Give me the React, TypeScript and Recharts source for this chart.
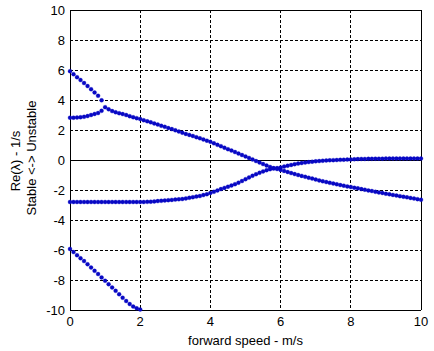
import React from "react";
import {
  LineChart,
  Line,
  XAxis,
  YAxis,
  CartesianGrid,
  ReferenceLine,
} from "recharts";

// forward speed, m/s
const speeds = [
  0, 0.1, 0.2, 0.3, 0.4, 0.5, 0.6, 0.7, 0.8, 0.9,
  1, 1.1, 1.2, 1.3, 1.4, 1.5, 1.6, 1.7, 1.8, 1.9,
  2, 2.1, 2.2, 2.3, 2.4, 2.5, 2.6, 2.7, 2.8, 2.9,
  3, 3.1, 3.2, 3.3, 3.4, 3.5, 3.6, 3.7, 3.8, 3.9,
  4, 4.1, 4.2, 4.3, 4.4, 4.5, 4.6, 4.7, 4.8, 4.9,
  5, 5.1, 5.2, 5.3, 5.4, 5.5, 5.6, 5.7, 5.8, 5.9,
  6, 6.1, 6.2, 6.3, 6.4, 6.5, 6.6, 6.7, 6.8, 6.9,
  7, 7.1, 7.2, 7.3, 7.4, 7.5, 7.6, 7.7, 7.8, 7.9,
  8, 8.1, 8.2, 8.3, 8.4, 8.5, 8.6, 8.7, 8.8, 8.9,
  9, 9.1, 9.2, 9.3, 9.4, 9.5, 9.6, 9.7, 9.8, 9.9,
  10,
];

// weave: upper real root, then the real part of the complex pair
const weave = [
  5.92, 5.72, 5.52, 5.33, 5.13, 4.93, 4.72, 4.5, 4.28, 3.98,
  3.52, 3.38, 3.26, 3.18, 3.12, 3.06, 3.0, 2.92, 2.85, 2.79,
  2.73, 2.65, 2.58, 2.51, 2.44, 2.36, 2.28, 2.21, 2.13, 2.06,
  1.98, 1.9, 1.82, 1.74, 1.67, 1.6, 1.52, 1.45, 1.37, 1.29,
  1.21, 1.11, 1.01, 0.92, 0.82, 0.72, 0.63, 0.53, 0.43, 0.33,
  0.24, 0.14, 0.04, -0.07, -0.17, -0.27, -0.37, -0.46, -0.54, -0.6,
  -0.66, -0.73, -0.8, -0.87, -0.94, -1.0, -1.06, -1.12, -1.18, -1.24,
  -1.3, -1.36, -1.42, -1.47, -1.52, -1.57, -1.62, -1.67, -1.71, -1.76,
  -1.8, -1.85, -1.89, -1.94, -1.98, -2.03, -2.07, -2.12, -2.16, -2.2,
  -2.25, -2.29, -2.33, -2.37, -2.41, -2.45, -2.49, -2.53, -2.57, -2.61,
  -2.65,
];

// weave: lower real root before the two merge
const weaveLow = [2.82, 2.82, 2.83, 2.85, 2.88, 2.93, 3.0, 3.07, 3.13, 3.28];

const capsize = [
  -2.8, -2.8, -2.8, -2.8, -2.8, -2.8, -2.8, -2.8, -2.8, -2.8,
  -2.8, -2.8, -2.8, -2.8, -2.8, -2.8, -2.8, -2.8, -2.8, -2.8,
  -2.8, -2.8, -2.79, -2.78, -2.76, -2.74, -2.72, -2.7, -2.68, -2.66,
  -2.64, -2.62, -2.6, -2.56, -2.52, -2.48, -2.44, -2.4, -2.34, -2.28,
  -2.2, -2.12, -2.03, -1.94, -1.86, -1.78, -1.7, -1.61, -1.51, -1.4,
  -1.28, -1.16, -1.05, -0.95, -0.85, -0.76, -0.68, -0.61, -0.57, -0.54,
  -0.5, -0.44, -0.38, -0.33, -0.28, -0.24, -0.2, -0.17, -0.14, -0.11,
  -0.09, -0.07, -0.05, -0.03, -0.02, -0.01, 0.0, 0.01, 0.02, 0.03,
  0.04, 0.05, 0.06, 0.07, 0.07, 0.08, 0.08, 0.09, 0.09, 0.09,
  0.1, 0.1, 0.1, 0.1, 0.1, 0.1, 0.1, 0.1, 0.1, 0.1,
  0.1,
];

// caster leaves the plot below -10 after 2 m/s
const caster = [
  -5.93, -6.14, -6.35, -6.55, -6.74, -6.95, -7.17, -7.39, -7.6, -7.83,
  -8.05, -8.28, -8.5, -8.72, -8.95, -9.18, -9.4, -9.6, -9.77, -9.89,
  -9.97,
];

const xTicks = [0, 2, 4, 6, 8, 10];
const yTicks = [-10, -8, -6, -4, -2, 0, 2, 4, 6, 8, 10];

const data = speeds.map((speed, i) => ({
  speed,
  weave: weave[i] ?? null,
  weaveLow: weaveLow[i] ?? null,
  capsize: capsize[i] ?? null,
  caster: caster[i] ?? null,
}));

const BLUE = "#0808c4";
const FONT = "'Liberation Sans', Arial, sans-serif";
const dotStyle = { r: 2, fill: BLUE, stroke: BLUE, strokeWidth: 0.3, clipDot: false };

function YLabel() {
  return (
    <g fontFamily={FONT} fontSize={13} fill="#000">
      <text x={20} y={161} transform="rotate(-90, 20, 161)" textAnchor="middle">
        Re(λ) - 1/s
      </text>
      <text x={36} y={158} transform="rotate(-90, 36, 158)" textAnchor="middle">
        {"Stable <-> Unstable"}
      </text>
    </g>
  );
}

export default function App() {
  return (
    <div style={{ position: "absolute", left: 0, top: 0, background: "#fff" }}>
      <LineChart
        width={434}
        height={351}
        data={data}
        margin={{ top: 10, right: 13, bottom: 3, left: 40 }}
      >
        <CartesianGrid
          stroke="#000"
          strokeDasharray="3 2"
          shapeRendering="crispEdges"
        />
        <XAxis
          dataKey="speed"
          type="number"
          domain={[0, 10]}
          ticks={xTicks}
          height={38}
          tickLine={false}
          tickSize={6}
          tickMargin={1}
          axisLine={{ stroke: "#000", shapeRendering: "crispEdges" }}
          tick={{ fontSize: 13, fill: "#000", fontFamily: FONT }}
          label={{
            value: "forward speed - m/s",
            position: "insideBottom",
            offset: 3,
            fontSize: 13,
            fill: "#000",
            fontFamily: FONT,
          }}
        />
        <YAxis
          type="number"
          domain={[-10, 10]}
          ticks={yTicks}
          width={30}
          tickLine={false}
          tickSize={4}
          tickMargin={1}
          axisLine={{ stroke: "#000", shapeRendering: "crispEdges" }}
          tick={{ fontSize: 13, fill: "#000", fontFamily: FONT }}
          label={{ content: () => <YLabel /> }}
        />
        <ReferenceLine y={0} stroke="#000" shapeRendering="crispEdges" />
        <ReferenceLine y={10} stroke="#000" shapeRendering="crispEdges" />
        <ReferenceLine x={10} stroke="#000" shapeRendering="crispEdges" />
        <Line dataKey="caster" stroke="none" dot={dotStyle} isAnimationActive={false} />
        <Line dataKey="capsize" stroke="none" dot={dotStyle} isAnimationActive={false} />
        <Line dataKey="weaveLow" stroke="none" dot={dotStyle} isAnimationActive={false} />
        <Line dataKey="weave" stroke="none" dot={dotStyle} isAnimationActive={false} />
      </LineChart>
    </div>
  );
}
